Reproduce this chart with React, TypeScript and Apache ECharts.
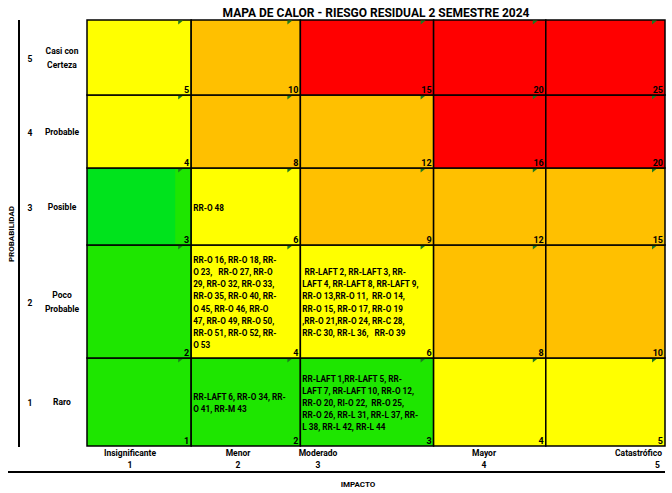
import React, { useEffect, useRef } from "react";
import * as echarts from "echarts";

// ---- data ----
const impactLabels = ["Insignificante", "Menor", "Moderado", "Mayor", "Catastrófico"];
const impactValues = [1, 2, 3, 4, 5];
const probabilityLabels = ["Raro", "Poco\nProbable", "Posible", "Probable", "Casi con\nCerteza"];
const probabilityValues = [1, 2, 3, 4, 5];
const chartTitle = "MAPA DE CALOR - RIESGO RESIDUAL 2 SEMESTRE 2024";
const xAxisTitle = "IMPACTO";
const yAxisTitle = "PROBABILIDAD";

// zone of each cell, rows = probability 1..5, columns = impact 1..5
const zoneP1 = ["bajo", "bajo", "bajo", "moderado", "moderado"];
const zoneP2 = ["bajo", "moderado", "moderado", "alto", "alto"];
const zoneP3 = ["bajo2", "moderado", "alto", "alto", "alto"];
const zoneP4 = ["moderado", "alto", "alto", "extremo", "extremo"];
const zoneP5 = ["moderado", "alto", "extremo", "extremo", "extremo"];
const zones = [zoneP1, zoneP2, zoneP3, zoneP4, zoneP5];

// risks located in cells (wrapped as in the source sheet)
const risksP1I2 = ["RR-LAFT 6, RR-O 34, RR-", "O 41, RR-M 43"];
const risksP1I3 = [
  "RR-LAFT 1,RR-LAFT 5, RR-",
  "LAFT 7, RR-LAFT 10, RR-O 12,",
  "RR-O 20, RI-O 22,  RR-O 25,",
  "RR-O 26, RR-L 31, RR-L 37, RR-",
  "L 38, RR-L 42, RR-L 44",
];
const risksP2I2 = [
  "RR-O 16, RR-O 18, RR-",
  "O 23,   RR-O 27, RR-O",
  "29, RR-O 32, RR-O 33,",
  "RR-O 35, RR-O 40, RR-",
  "O 45, RR-O 46, RR-O",
  "47, RR-O 49, RR-O 50,",
  "RR-O 51, RR-O 52, RR-",
  "O 53",
];
const risksP2I3 = [
  " RR-LAFT 2, RR-LAFT 3, RR-",
  "LAFT 4, RR-LAFT 8, RR-LAFT 9,",
  "RR-O 13,RR-O 11,  RR-O 14,",
  "RR-O 15, RR-O 17, RR-O 19",
  ",RR-O 21,RR-O 24, RR-C 28,",
  "RR-C 30, RR-L 36,   RR-O 39",
];
const risksP3I2 = ["RR-O 48"];
const risks: Record<string, string[]> = {
  "1-2": risksP1I2,
  "1-3": risksP1I3,
  "2-2": risksP2I2,
  "2-3": risksP2I3,
  "3-2": risksP3I2,
};

// ---- layout / style ----
const colWidths = [104, 109, 133, 112, 119];
const rowHeights = [88, 113, 77, 73, 75]; // probability 1..5 (bottom to top)
const zoneColors: Record<string, string> = {
  bajo: "#1EE600",
  bajo2: "#00E31C",
  moderado: "#FFFF00",
  alto: "#FFC000",
  extremo: "#FF0000",
};
const FONT = "Roboto, 'Noto Sans', sans-serif";

const cumul = (arr: number[], n: number) => arr.slice(0, n).reduce((a, b) => a + b, 0);

export default function App() {
  const ref = useRef<HTMLDivElement>(null);
  useEffect(() => {
    if (!ref.current) return;
    document.body.style.margin = "0";
    const chart = echarts.init(ref.current, undefined, { renderer: "svg" });
    const data: number[][] = [];
    probabilityValues.forEach((p) =>
      impactValues.forEach((i) => data.push([i, p, i * p]))
    );
    const totalW = cumul(colWidths, 5);
    const totalH = cumul(rowHeights, 5);

    const renderItem = (params: any, api: any) => {
      const i = api.value(0);
      const p = api.value(1);
      const score = api.value(2);
      const x0 = cumul(colWidths, i - 1);
      const x1 = x0 + colWidths[i - 1];
      const y0 = cumul(rowHeights, p - 1);
      const y1 = y0 + rowHeights[p - 1];
      const tl = api.coord([x0, y1]);
      const br = api.coord([x1, y0]);
      const zone = zones[p - 1][i - 1];
      const children: any[] = [
        {
          type: "rect",
          shape: { x: tl[0], y: tl[1], width: br[0] - tl[0], height: br[1] - tl[1] },
          style: { fill: zoneColors[zone], stroke: "#000", lineWidth: 1.5 },
        },
      ];
      if (zone === "bajo2") {
        children.push({
          type: "rect",
          shape: { x: br[0] - 16, y: tl[1] + 1, width: 15, height: br[1] - tl[1] - 2 },
          style: { fill: zoneColors.bajo },
        });
      }
      children.push(
        {
          type: "polygon",
          shape: {
            points: [
              [br[0] - 13, tl[1] + 0.5],
              [br[0] - 8, tl[1] + 0.5],
              [br[0] - 13, tl[1] + 4.5],
            ],
          },
          style: { fill: "#1F7A1F" },
        },
        {
          type: "text",
          style: {
            text: String(score),
            x: br[0] - 2,
            y: br[1] - 1,
            textAlign: "right",
            textVerticalAlign: "bottom",
            fill: "#000",
            fontSize: 9,
            fontWeight: "bold",
            fontFamily: FONT,
          },
        }
      );
      const lines = risks[`${p}-${i}`];
      if (lines) {
        children.push({
          type: "text",
          style: {
            text: lines.join("\n"),
            x: tl[0] + 2,
            y: (tl[1] + br[1]) / 2 + 1,
            textAlign: "left",
            textVerticalAlign: "middle",
            fill: "#000",
            fontSize: 8.2,
            lineHeight: 12.2,
            fontWeight: "bold",
            fontFamily: FONT,
          },
        });
      }
      return { type: "group", children };
    };

    const txt = (text: string, x: number, y: number, extra: any = {}) => ({
      type: "text",
      x,
      y,
      style: {
        text,
        fill: "#000",
        fontSize: 8.5,
        fontWeight: "bold",
        fontFamily: FONT,
        textAlign: "center",
        textVerticalAlign: "middle",
        lineHeight: 14,
        ...extra,
      },
    });

    const rowCenters = probabilityValues.map(
      (p) => 446 - (cumul(rowHeights, p - 1) + rowHeights[p - 1] / 2)
    );
    const impactX = [130, 238, 318, 484, 662];
    const yTitle: any = txt(yAxisTitle, 11, 234, { fontSize: 8 });
    yTitle.rotation = Math.PI / 2;
    const graphic: any[] = [
      txt(chartTitle, 376, 13, { fontSize: 12 }),
      {
        type: "rect",
        shape: { x: 18, y: 20, width: 2, height: 427 },
        style: { fill: "#000" },
      },
      {
        type: "rect",
        shape: { x: 8, y: 471, width: 657, height: 2 },
        style: { fill: "#000" },
      },
      yTitle,
      txt(xAxisTitle, 358, 484, { fontSize: 8 }),
    ];
    probabilityValues.forEach((p, k) => {
      graphic.push(txt(String(p), 30, rowCenters[k] + 1));
      graphic.push(txt(probabilityLabels[k], 62, rowCenters[k]));
    });
    impactValues.forEach((v, k) => {
      const align = k === 4 ? "right" : "center";
      graphic.push(txt(impactLabels[k], impactX[k], 453, { textAlign: align }));
      graphic.push(txt(String(v), k === 4 ? impactX[k] - 2 : impactX[k], 465, { textAlign: align }));
    });

    chart.setOption({
      animation: false,
      grid: { left: 87, right: 7, top: 20, bottom: 47 },
      xAxis: { type: "value", min: 0, max: totalW, show: false },
      yAxis: { type: "value", min: 0, max: totalH, show: false },
      graphic,
      series: [
        {
          type: "custom",
          renderItem,
          data,
          clip: false,
        },
      ],
    });
    return () => chart.dispose();
  }, []);
  return <div ref={ref} style={{ width: 672, height: 493 }} />;
}
